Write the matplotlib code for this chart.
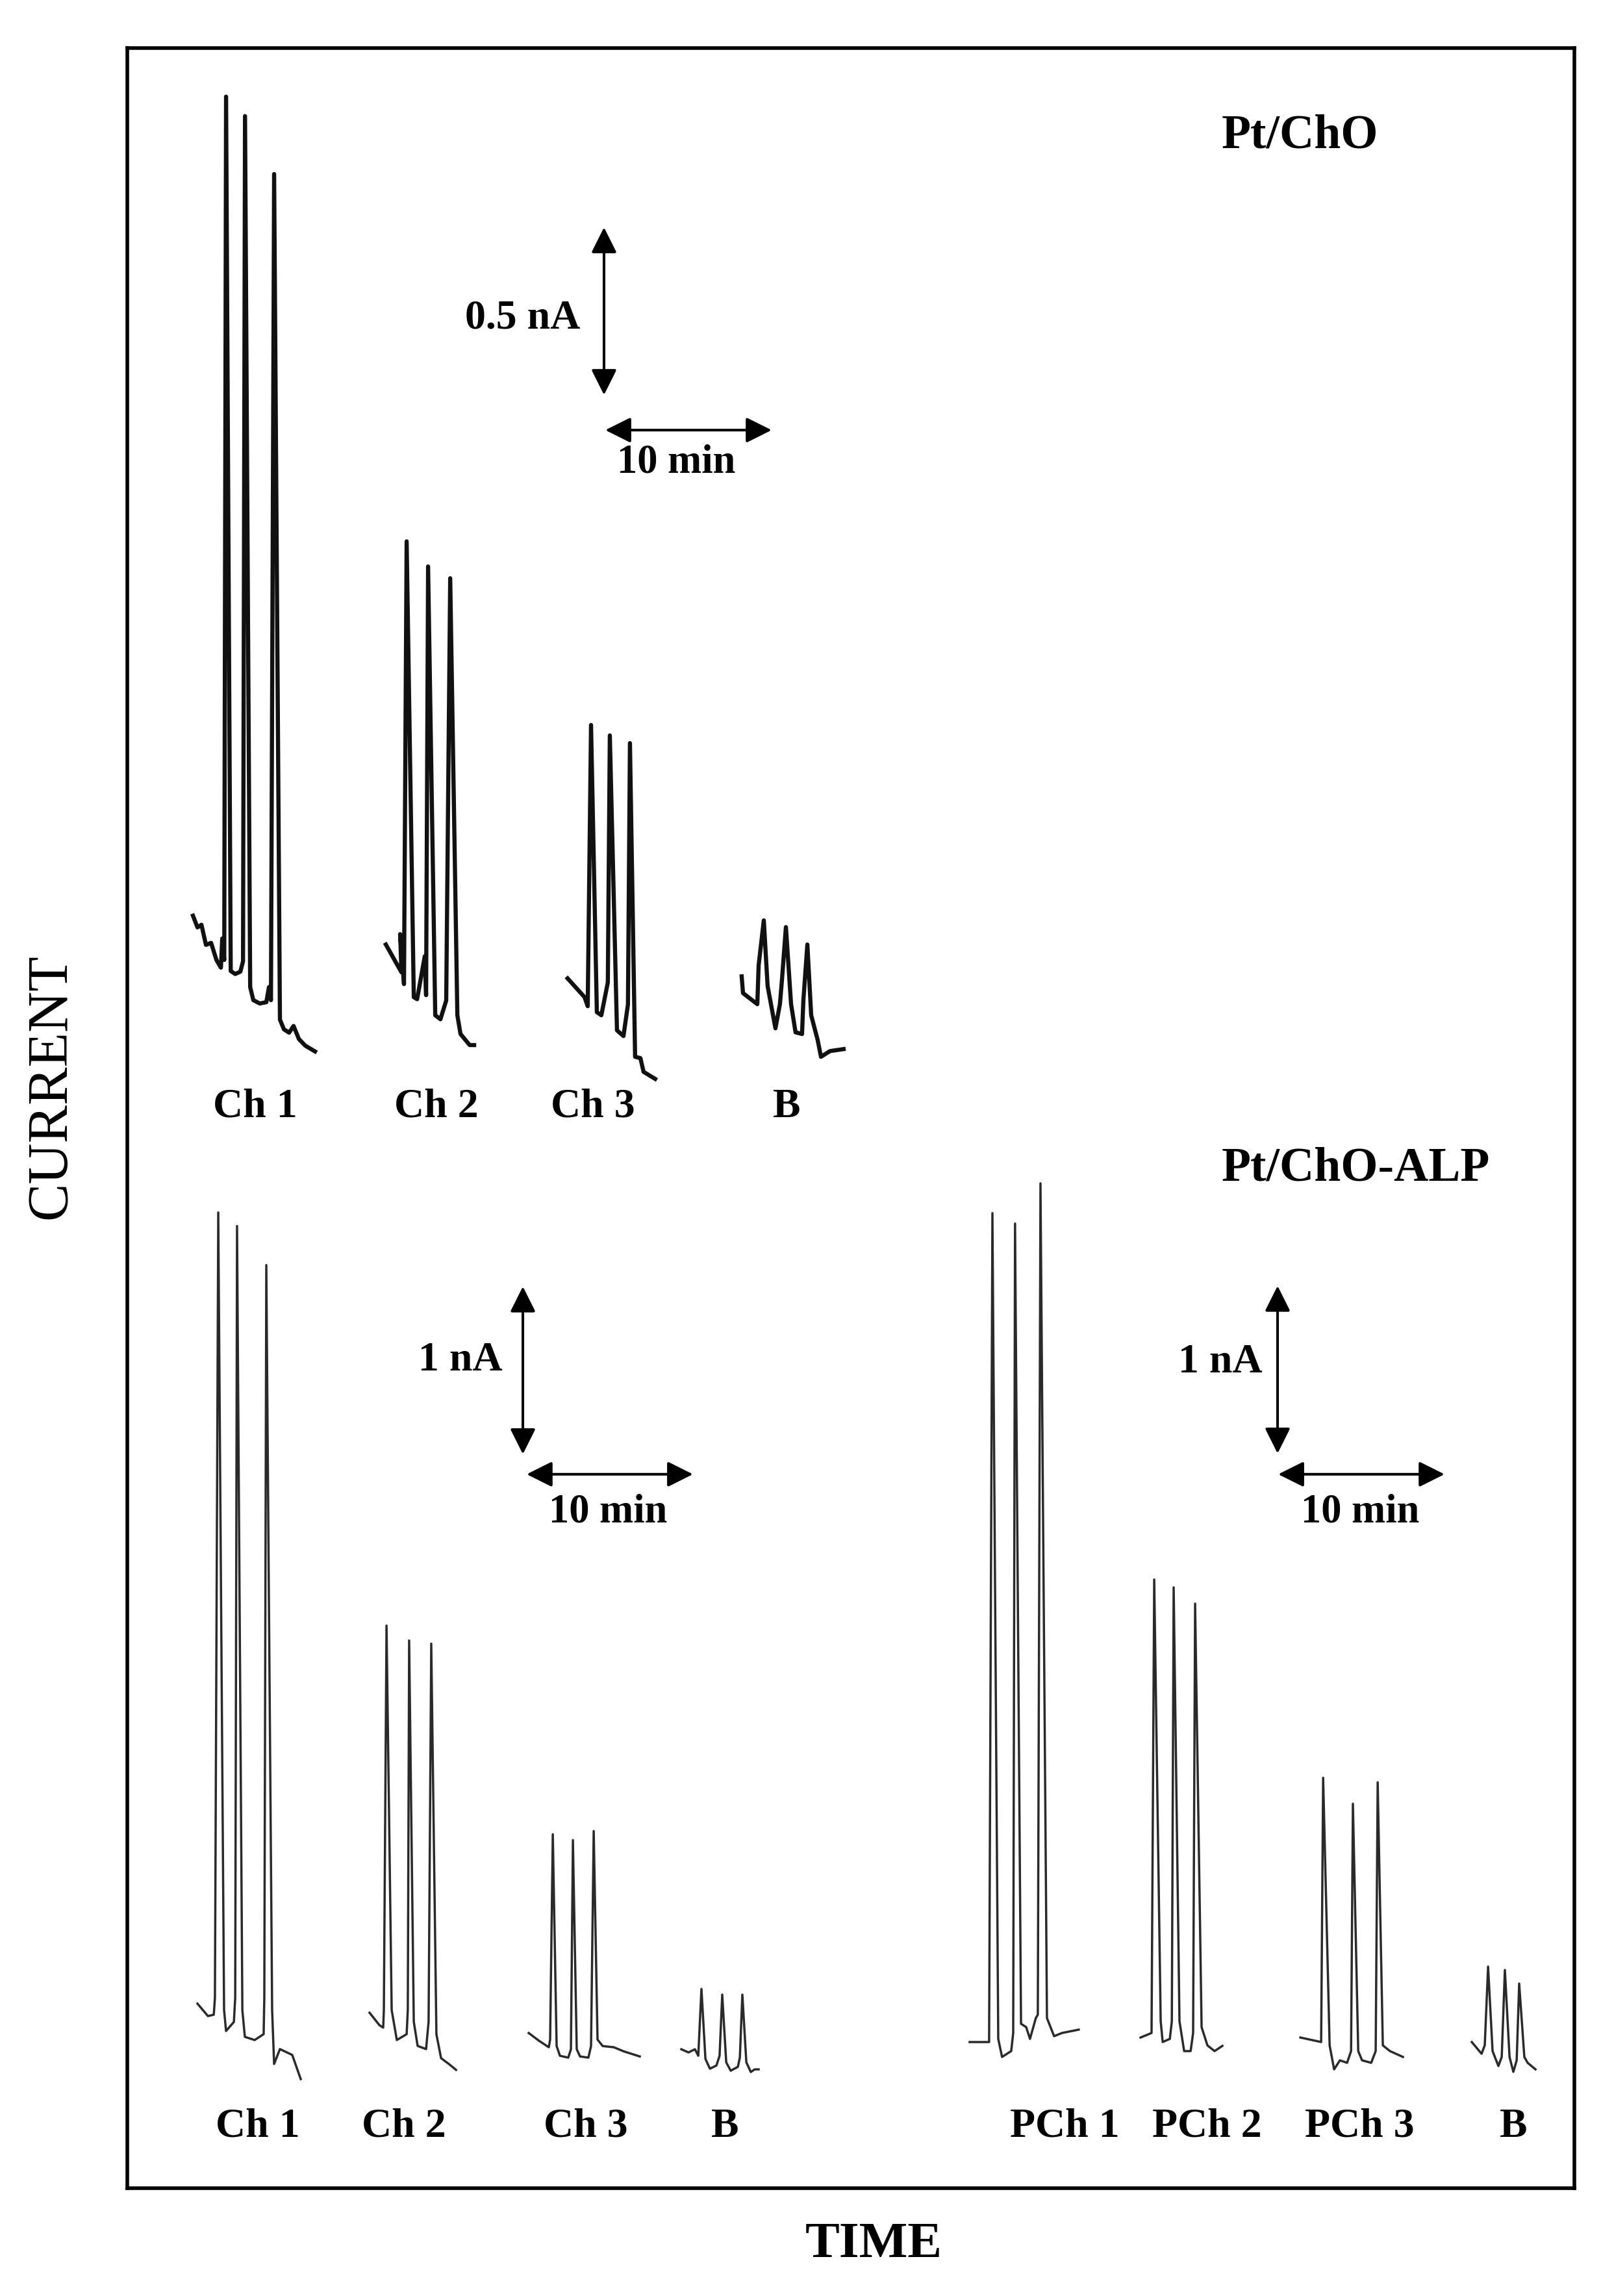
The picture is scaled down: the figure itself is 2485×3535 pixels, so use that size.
import matplotlib.pyplot as plt
from matplotlib.patches import FancyArrowPatch, ArrowStyle

# ------------------------------------------------------------------
# Data: each trace is (time in min, current in nA), relative to the
# first point of the recording.
# ------------------------------------------------------------------
# Pt/ChO  (scale 0.5 nA)
top_ch1_t = [0, 0.27, 0.51, 0.78, 1.09, 1.41, 1.68, 1.76, 1.88, 1.99, 2.27, 2.54, 2.85, 3.01, 3.13,
             3.44, 3.63, 4.02, 4.41, 4.57, 4.69, 4.88, 5.23, 5.47, 5.78, 6.05, 6.37, 6.76, 7.34]
top_ch1_i = [0, -0.035, -0.027, -0.087, -0.081, -0.132, -0.155, -0.068, -0.132, 2.444, -0.165, -0.174,
             -0.167, -0.136, 2.386, -0.213, -0.252, -0.262, -0.258, -0.213, -0.252, 2.213, -0.310,
             -0.339, -0.349, -0.329, -0.368, -0.388, -0.405]

top_ch2_t = [0, 0.94, 0.86, 1.09, 1.25, 1.68, 1.88, 2.34, 2.42, 2.54, 2.97, 3.28, 3.63, 3.87, 4.30,
             4.49, 5.04, 5.31]
top_ch2_i = [0, -0.083, 0.031, -0.118, 1.203, -0.157, -0.163, -0.035, -0.151, 1.128, -0.211, -0.223,
             -0.167, 1.093, -0.211, -0.267, -0.300, -0.300]

top_ch3_t = [0, 1.02, 1.21, 1.41, 1.76, 2.03, 2.42, 2.54, 2.97, 3.36, 3.63, 3.75, 4.06, 4.38, 4.57, 5.27]
top_ch3_i = [0, -0.056, -0.083, 0.756, -0.101, -0.110, -0.012, 0.725, -0.155, -0.172, -0.078, 0.702,
             -0.234, -0.238, -0.279, -0.300]

top_b_t = [0, 0.08, 0.94, 1.02, 1.33, 1.56, 2.03, 2.30, 2.42, 2.66, 2.97, 3.24, 3.63, 3.71, 3.95,
           4.18, 4.57, 4.77, 5.31, 6.13]
top_b_i = [0, -0.050, -0.083, 0.033, 0.167, -0.029, -0.155, -0.083, -0.012, 0.147, -0.083, -0.167,
           -0.172, -0.072, 0.095, -0.116, -0.190, -0.240, -0.223, -0.217]

# Pt/ChO-ALP, choline (scale 1 nA)
bot_ch1_t = [0, 0.63, 0.98, 1.05, 1.25, 1.60, 1.72, 2.19, 2.27, 2.38, 2.70, 2.85, 3.44, 3.98, 4.02,
             4.14, 4.49, 4.61, 4.96, 5.70, 6.21]
bot_ch1_i = [0, -0.074, -0.066, 0.035, 4.721, -0.039, -0.163, -0.109, 0.035, 4.640, -0.039, -0.198,
             -0.217, -0.182, 0.035, 4.407, -0.039, -0.360, -0.271, -0.306, -0.450]

bot_ch2_t = [0, 0.59, 0.82, 0.86, 1.02, 1.33, 1.64, 2.23, 2.30, 2.38, 2.66, 2.89, 3.40, 3.55, 3.71,
             4.02, 4.30, 4.77, 5.20]
bot_ch2_i = [0, -0.074, -0.089, 0.016, 2.310, 0.016, -0.163, -0.128, 0.016, 2.221, -0.054, -0.198,
             -0.217, -0.054, 2.202, -0.128, -0.271, -0.306, -0.341]

bot_ch3_t = [0, 0.63, 1.21, 1.29, 1.45, 1.68, 1.88, 2.38, 2.54, 2.66, 2.89, 3.09, 3.59, 3.75, 3.91,
             4.14, 4.45, 5.12, 5.70, 6.68]
bot_ch3_i = [0, -0.047, -0.085, -0.039, 1.186, -0.078, -0.136, -0.147, -0.097, 1.151, -0.097, -0.140,
             -0.147, -0.078, 1.205, -0.039, -0.078, -0.085, -0.109, -0.140]

bot_b1_t = [0, 0.43, 0.82, 1.02, 1.21, 1.45, 1.72, 2.11, 2.30, 2.46, 2.70, 2.97, 3.40, 3.52, 3.67,
            3.91, 4.18, 4.41, 4.65]
bot_b1_i = [0, -0.019, 0, -0.039, 0.360, -0.058, -0.116, -0.097, -0.039, 0.326, -0.078, -0.128,
            -0.105, -0.050, 0.326, -0.078, -0.136, -0.120, -0.120]

# Pt/ChO-ALP, phosphocholine (scale 1 nA)
bot_pch1_t = [0, 1.17, 1.37, 1.72, 1.95, 2.50, 2.62, 2.73, 3.09, 3.40, 3.63, 3.98, 4.10, 4.26, 4.65,
              5.08, 5.55, 6.56]
bot_pch1_i = [0, 0, 4.946, 0.019, -0.089, -0.054, 0.054, 4.884, 0.109, 0.089, 0.019, 0.143, 0.163,
              5.124, 0.143, 0.035, 0.054, 0.074]

bot_pch2_t = [0, 0.66, 0.82, 1.21, 1.33, 1.76, 1.88, 1.99, 2.34, 2.62, 3.01, 3.16, 3.28, 3.67, 4.02,
              4.45, 4.92]
bot_pch2_i = [0, 0.027, 2.733, 0.097, -0.027, -0.008, 0.097, 2.686, 0.097, -0.081, -0.081, 0.027,
              2.589, 0.062, -0.047, -0.081, -0.050]

bot_pch3_t = [0, 1.25, 1.37, 1.76, 2.03, 2.38, 2.81, 3.05, 3.16, 3.48, 3.71, 4.26, 4.53, 4.65, 4.96,
              5.39, 6.17]
bot_pch3_i = [0, -0.027, 1.550, -0.047, -0.190, -0.136, -0.151, -0.081, 1.395, -0.081, -0.136,
              -0.151, -0.081, 1.523, -0.047, -0.081, -0.116]

bot_b2_t = [0, 0.59, 0.78, 0.98, 1.25, 1.60, 1.80, 1.99, 2.27, 2.50, 2.70, 2.85, 3.16, 3.36, 3.83]
bot_b2_i = [0, -0.070, -0.019, 0.450, -0.054, -0.143, -0.089, 0.430, -0.089, -0.178, -0.109, 0.349,
            -0.089, -0.124, -0.163]

top_labels = ["Ch 1", "Ch 2", "Ch 3", "B"]
bot_labels = ["Ch 1", "Ch 2", "Ch 3", "B", "PCh 1", "PCh 2", "PCh 3", "B"]

# ------------------------------------------------------------------
# Layout (pixels of the 2485 x 3535 image)
# ------------------------------------------------------------------
W, H = 2485, 3535
FRAME = (196, 74, 2424, 3369)           # left, top, right, bottom
X_SPAN = 87.03                          # min across the frame
TOP_SPAN = 6.386                        # nA across the frame (top traces)
BOT_SPAN = 12.77                        # nA across the frame (bottom traces)

# where each recording starts (min, nA) inside its panel
top_traces = [(top_ch1_t, top_ch1_i, 3.95, 3.797),
              (top_ch2_t, top_ch2_i, 15.55, 3.711),
              (top_ch3_t, top_ch3_i, 26.48, 3.610),
              (top_b_t, top_b_i, 36.95, 3.616)]
bot_traces = [(bot_ch1_t, bot_ch1_i, 4.22, 1.101),
              (bot_ch2_t, bot_ch2_i, 14.57, 1.047),
              (bot_ch3_t, bot_ch3_i, 24.14, 0.926),
              (bot_b1_t, bot_b1_i, 33.32, 0.829),
              (bot_pch1_t, bot_pch1_i, 50.66, 0.872),
              (bot_pch2_t, bot_pch2_i, 60.94, 0.899),
              (bot_pch3_t, bot_pch3_i, 70.55, 0.899),
              (bot_b2_t, bot_b2_i, 80.86, 0.872)]

top_label_x = [393, 672, 913, 1211]
bot_label_x = [397, 622, 902, 1116, 1639, 1858, 2093, 2330]

SERIF = ["Liberation Serif", "DejaVu Serif"]


def fx(px):
    return px / W


def fy(py):
    return 1 - py / H


fig = plt.figure(figsize=(W / 100, H / 100), dpi=100)
rect = [fx(FRAME[0]), fy(FRAME[3]), fx(FRAME[2] - FRAME[0]), (FRAME[3] - FRAME[1]) / H]

# outer box
frame = fig.add_axes(rect)
frame.set_xticks([])
frame.set_yticks([])
for s in frame.spines.values():
    s.set_linewidth(4)

# one overlay per current scale
ax_top = fig.add_axes(rect)
ax_top.axis("off")
ax_top.set_xlim(0, X_SPAN)
ax_top.set_ylim(0, TOP_SPAN)

ax_bot = fig.add_axes(rect)
ax_bot.axis("off")
ax_bot.set_xlim(0, X_SPAN)
ax_bot.set_ylim(0, BOT_SPAN)

for t, i, t0, i0 in top_traces:
    ax_top.plot([t0 + v for v in t], [i0 + v for v in i], color="#111111", lw=4.6)
for t, i, t0, i0 in bot_traces:
    ax_bot.plot([t0 + v for v in t], [i0 + v for v in i], color="#2a2a2a", lw=2.5)


def arrow(ax, p0, p1):
    style = ArrowStyle("<|-|>", head_length=2.4, head_width=1.2)
    ax.add_patch(FancyArrowPatch(p0, p1, arrowstyle=style, mutation_scale=10,
                                 lw=2.9, color="black", shrinkA=0, shrinkB=0))


# scale bars: 0.5 nA / 1 nA and 10 min
arrow(ax_top, (28.67, 5.351), (28.67, 5.351 + 0.5))
arrow(ax_top, (28.75, 5.246), (28.75 + 10, 5.246))
arrow(ax_bot, (23.79, 4.380), (23.79, 4.380 + 1))
arrow(ax_bot, (24.02, 4.260), (24.02 + 10, 4.260))
arrow(ax_bot, (69.18, 4.384), (69.18, 4.384 + 1))
arrow(ax_bot, (69.22, 4.260), (69.22 + 10, 4.260))


def label(px, py, s, size, weight="bold"):
    fig.text(fx(px), fy(py), s, fontsize=size, fontweight=weight, family=SERIF,
             ha="center", va="baseline")


label(2001, 228, "Pt/ChO", 53)
label(2087, 1818, "Pt/ChO-ALP", 53)
label(805, 505, "0.5 nA", 46)
label(1041, 727, "10 min", 45)
label(709, 2110, "1 nA", 46)
label(936, 2344, "10 min", 45)
label(1879, 2113, "1 nA", 46)
label(2094, 2344, "10 min", 45)

for x, s in zip(top_label_x, top_labels):
    label(x, 1720, s, 46)
for x, s in zip(bot_label_x, bot_labels):
    label(x, 3290, s, 46)

label(1345, 3475, "TIME", 57)
fig.text(fx(78), fy(1673), "CURRENT", fontsize=63, family=SERIF, rotation=90,
         ha="center", va="center")

fig.savefig("out.png", dpi=100, facecolor="white")
